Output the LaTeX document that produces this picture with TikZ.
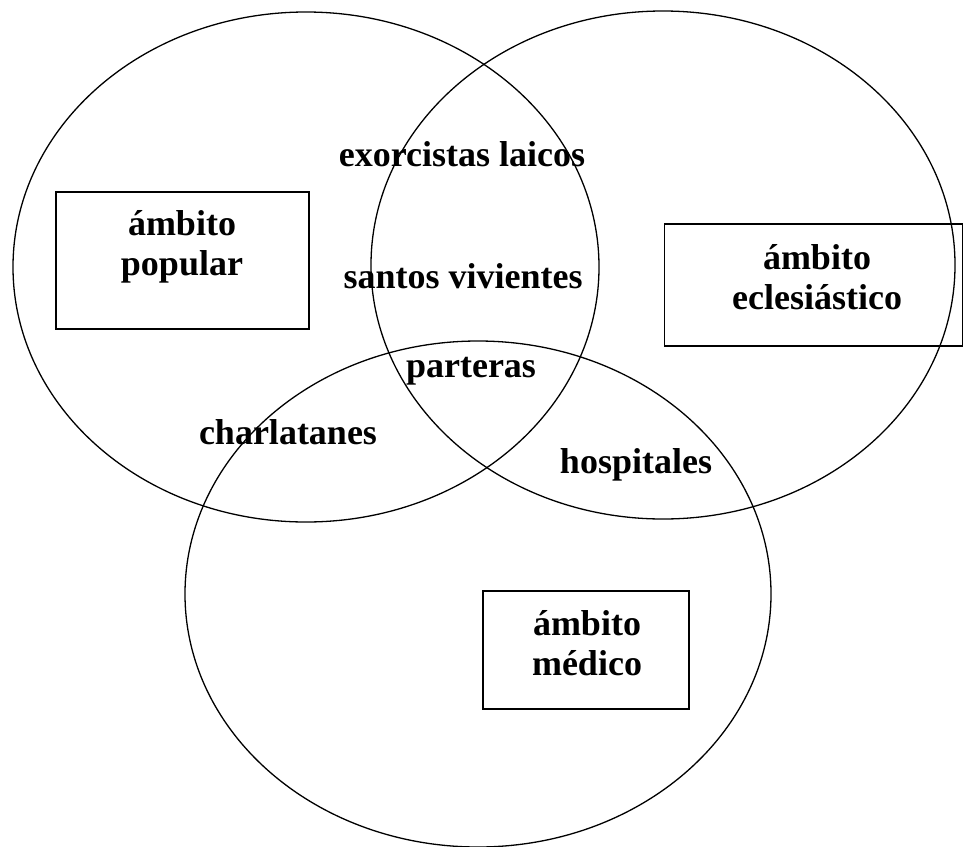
\documentclass[tikz,border=0pt]{standalone}
\usepackage{fontspec}
\setmainfont{Liberation Serif}
\usepackage{tikz}

\tikzset{
  ambito/.style={draw, line width=1.3pt, inner sep=0pt},
  rotulo/.style={font=\fontsize{36}{40}\selectfont\bfseries, align=center, inner sep=0pt}
}

\begin{document}
\begin{tikzpicture}[x=1pt,y=-1pt]
\useasboundingbox (0,0) rectangle (963,846);

% los tres ambitos
\draw[line width=1.3pt] (306,267) ellipse (293 and 255);
\draw[line width=1.3pt] (663,265) ellipse (292 and 254);
\draw[line width=1.3pt] (478,594) ellipse (293 and 253);

% recuadros
\node[ambito, minimum width=253, minimum height=137] (pop) at (182.5,260.5) {};
\node[ambito, minimum width=298, minimum height=122] (ecl) at (813.5,285) {};
\node[ambito, minimum width=206, minimum height=118] (med) at (586,650) {};

\node[rotulo] (popt) at (182,247) {ámbito\\popular};
\node[rotulo] (eclt) at (817,277.5) {ámbito\\eclesiástico};
\node[rotulo] (medt) at (587,643.5) {ámbito\\médico};

% intersecciones
\node[rotulo] (exo) at (462,154) {exorcistas laicos};
\node[rotulo] (san) at (463,276) {santos vivientes};
\node[rotulo] (par) at (471,371) {parteras};
\node[rotulo] (cha) at (288,432) {charlatanes};
\node[rotulo] (hos) at (636,465) {hospitales};
\end{tikzpicture}
\end{document}
